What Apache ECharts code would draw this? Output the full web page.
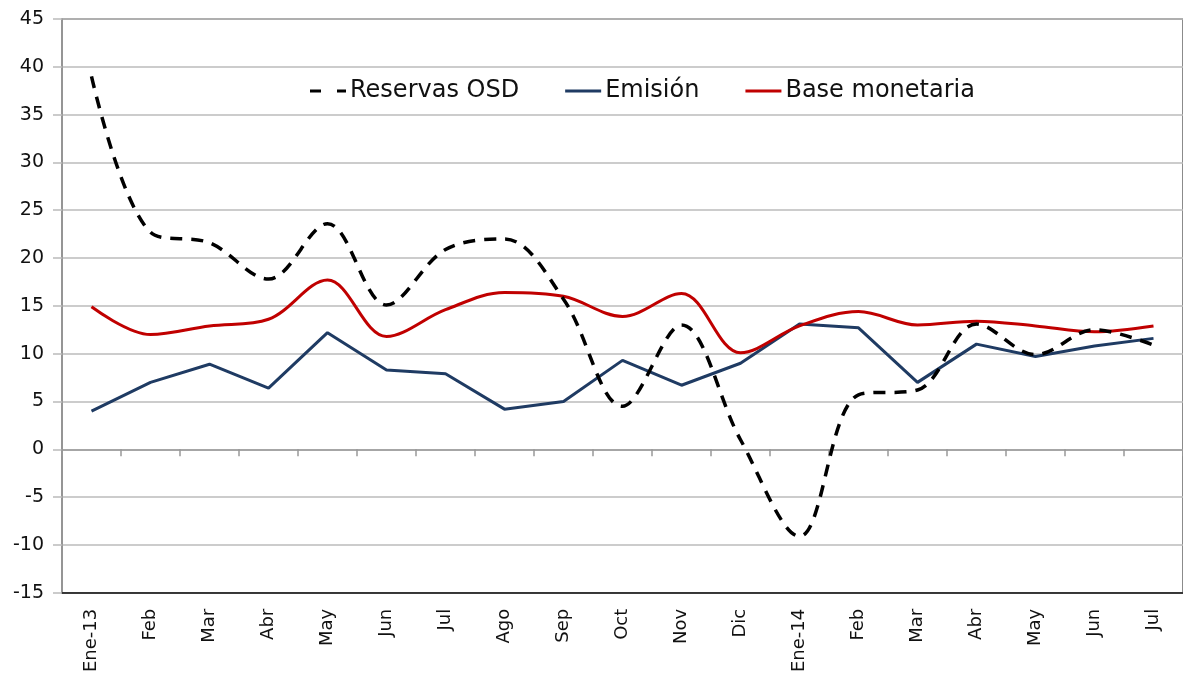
<!DOCTYPE html>
<html>
<head>
<meta charset="utf-8">
<script src="https://cdn.jsdelivr.net/npm/echarts@6/dist/echarts.min.js"></script>
<style>
  html, body { margin: 0; padding: 0; background: #fff; }
  #chart { width: 1183px; height: 675px; }
</style>
</head>
<body>
<div id="chart"></div>
<script>
const months = ['Ene-13', 'Feb', 'Mar', 'Abr', 'May', 'Jun', 'Jul', 'Ago', 'Sep', 'Oct', 'Nov', 'Dic',
  'Ene-14', 'Feb', 'Mar', 'Abr', 'May', 'Jun', 'Jul']
const reservasOSD = [39.0, 22.7, 21.6, 17.8, 23.6, 15.1, 20.9, 22.0, 15.7, 4.5, 13.0, 1.0,
  -9.1, 5.7, 6.2, 13.1, 9.9, 12.5, 10.9]
const emision = [4.0, 7.0, 8.9, 6.4, 12.2, 8.3, 7.9, 4.2, 5.0, 9.3, 6.7, 9.0,
  13.1, 12.7, 7.0, 11.0, 9.7, 10.8, 11.6]
const baseMonetaria = [14.9, 12.0, 12.9, 13.6, 17.7, 11.8, 14.6, 16.4, 16.0, 13.9, 16.3, 10.1,
  12.9, 14.4, 13.0, 13.4, 12.9, 12.3, 12.9]
const yTicks = { min: -15, max: 45, step: 5 }

const font = '"DejaVu Sans", sans-serif'
const chart = echarts.init(document.getElementById('chart'))

chart.setOption({
  animation: false,
  textStyle: { fontFamily: font },
  legend: {
    top: 74,
    left: 305,
    itemWidth: 36,
    itemHeight: 3,
    itemGap: 46,
    textStyle: { fontSize: 24, color: '#111', fontFamily: font, padding: [0, 0, 0, -1] },
    data: [
      { name: 'Reservas OSD', icon: 'path://M0,0 L11,0 L11,3 L0,3 Z M27,0 L36,0 L36,3 L27,3 Z' },
      { name: 'Emisión', icon: 'rect' },
      { name: 'Base monetaria', icon: 'rect' }
    ]
  },
  grid: {
    left: 62,
    right: -13,
    top: 19,
    bottom: 81,
    show: true,
    borderColor: '#666',
    borderWidth: 1.5
  },
  xAxis: [
    {
      type: 'category',
      data: months,
      position: 'bottom',
      boundaryGap: true,
      axisLine: { onZero: false, lineStyle: { color: '#111', width: 1.5 } },
      axisTick: { show: false },
      axisLabel: {
        rotate: 90,
        margin: 16,
        fontSize: 18,
        color: '#111',
        interval: 0
      }
    },
    {
      type: 'category',
      data: months,
      position: 'top',
      boundaryGap: true,
      axisLine: { onZero: true, lineStyle: { color: '#999', width: 1.5 } },
      axisTick: { show: true, inside: true, length: 7, interval: 0, lineStyle: { color: '#999', width: 1.5 } },
      axisLabel: { show: false }
    }
  ],
  yAxis: {
    type: 'value',
    min: yTicks.min,
    max: yTicks.max,
    interval: yTicks.step,
    axisLine: { show: true, lineStyle: { color: '#999', width: 1.5 } },
    axisTick: { show: true, length: 9, lineStyle: { color: '#bbb', width: 1.5 } },
    axisLabel: { fontSize: 19, color: '#111', margin: 18 },
    splitLine: { lineStyle: { color: '#bbb', width: 1.5 } }
  },
  series: [
    {
      name: 'Reservas OSD',
      type: 'line',
      data: reservasOSD,
      smooth: 0.35,
      symbol: 'none',
      itemStyle: { color: '#000' },
      lineStyle: { color: '#000', width: 3.5, type: [12, 9] },
      z: 3
    },
    {
      name: 'Emisión',
      type: 'line',
      data: emision,
      smooth: false,
      symbol: 'none',
      itemStyle: { color: '#1F3B63' },
      lineStyle: { color: '#1F3B63', width: 3 },
      z: 2
    },
    {
      name: 'Base monetaria',
      type: 'line',
      data: baseMonetaria,
      smooth: 0.35,
      symbol: 'none',
      itemStyle: { color: '#C00000' },
      lineStyle: { color: '#C00000', width: 3 },
      z: 2
    }
  ]
})
</script>
</body>
</html>
